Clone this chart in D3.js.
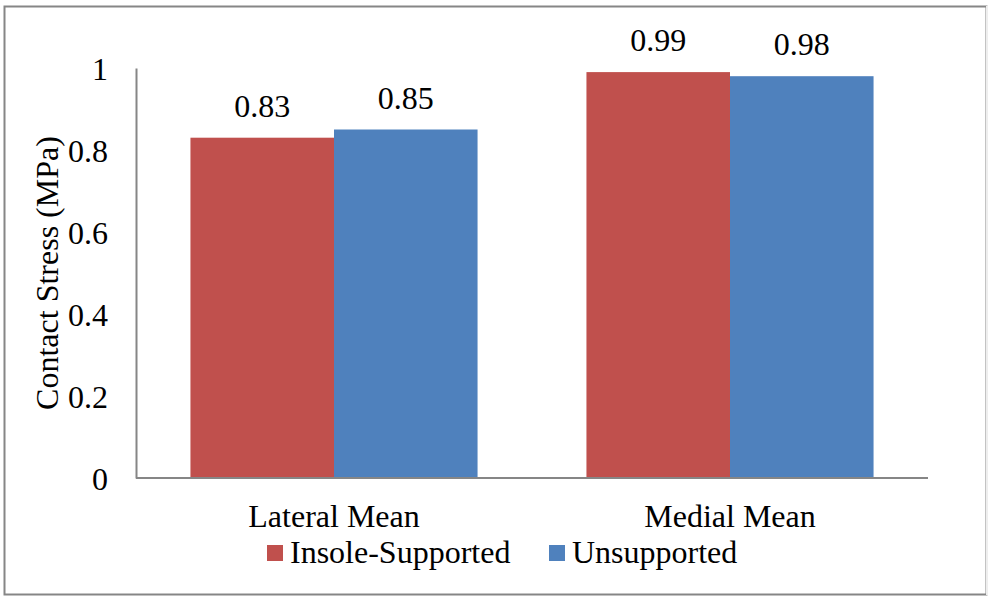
<!DOCTYPE html>
<html><head><meta charset="utf-8">
<script src="https://cdn.jsdelivr.net/npm/d3@7"></script>
<style>body{margin:0;background:#fff}svg{display:block}text{font-family:"Liberation Serif","Times New Roman",serif;fill:#000}</style>
</head><body>
<svg id="c" width="988" height="602"></svg>
<script>
const categories = ["Lateral Mean", "Medial Mean"];
const seriesNames = ["Insole-Supported", "Unsupported"];
const insoleSupported = [0.83, 0.99];
const unsupported = [0.85, 0.98];
const yTicks = [0, 0.2, 0.4, 0.6, 0.8, 1];
const yTickLabels = ["0", "0.2", "0.4", "0.6", "0.8", "1"];
const colors = ["#C0504D", "#4F81BD"];

const FS = 32;
const svg = d3.select("#c");
svg.append("rect").attr("x", 4.5).attr("y", 6.5).attr("width", 982).attr("height", 588)
  .attr("fill", "#fff").attr("stroke", "#868686").attr("stroke-width", 2);
svg.append("line").attr("x1", 987).attr("x2", 987).attr("y1", 6).attr("y2", 595).attr("stroke", "#eee").attr("stroke-width", 2);

const pLeft = 136, pRight = 928, pTop = 68, pBottom = 478;
const x0 = d3.scaleBand().domain(categories).range([pLeft, pRight]).paddingInner(0.275).paddingOuter(0.1375);
const x1 = d3.scaleBand().domain(seriesNames).range([0, x0.bandwidth()]);
const y = d3.scaleLinear().domain([0, 1]).range([pBottom, pTop]);

const data = categories.map((c, i) => ({cat: c, vals: [insoleSupported[i], unsupported[i]]}));
const g = svg.append("g");
data.forEach(d => {
  d.vals.forEach((v, j) => {
    g.append("rect").attr("x", x0(d.cat) + x1(seriesNames[j])).attr("y", y(v))
      .attr("width", x1.bandwidth()).attr("height", y(0) - y(v)).attr("fill", colors[j]);
    g.append("text").attr("x", x0(d.cat) + x1(seriesNames[j]) + x1.bandwidth() / 2)
      .attr("y", y(v) - 21).attr("text-anchor", "middle").attr("font-size", FS).text(v.toFixed(2));
  });
});

// y axis
const yAxis = d3.axisLeft(y).tickValues(yTicks).tickSize(0).tickPadding(28)
  .tickFormat((d, i) => yTickLabels[i]);
const ya = svg.append("g").attr("transform", `translate(${pLeft},0)`).call(yAxis);
ya.attr("font-family", null).attr("font-size", null);
ya.select(".domain").attr("stroke", "#868686").attr("stroke-width", 2);
ya.selectAll("text").attr("font-size", FS).attr("dy", "0.35em");

// x axis
const xAxis = d3.axisBottom(x0).tickSize(0);
const xa = svg.append("g").attr("transform", `translate(0,${pBottom})`).call(xAxis);
xa.attr("font-family", null).attr("font-size", null);
xa.select(".domain").attr("stroke", "#868686").attr("stroke-width", 2).attr("d", `M${pLeft},0H${pRight}`);
xa.selectAll("text").attr("font-size", FS).attr("dy", null).attr("y", 49);

// y title
svg.append("text").attr("transform", `translate(58,${(pTop + pBottom) / 2}) rotate(-90)`)
  .attr("text-anchor", "middle").attr("font-size", FS).text("Contact Stress (MPa)");

// legend
const legX = [267, 549];
seriesNames.forEach((s, j) => {
  svg.append("rect").attr("x", legX[j]).attr("y", 545).attr("width", 16).attr("height", 16).attr("fill", colors[j]);
  svg.append("text").attr("x", legX[j] + 23).attr("y", 563).attr("font-size", FS).text(s);
});
</script>
</body></html>
